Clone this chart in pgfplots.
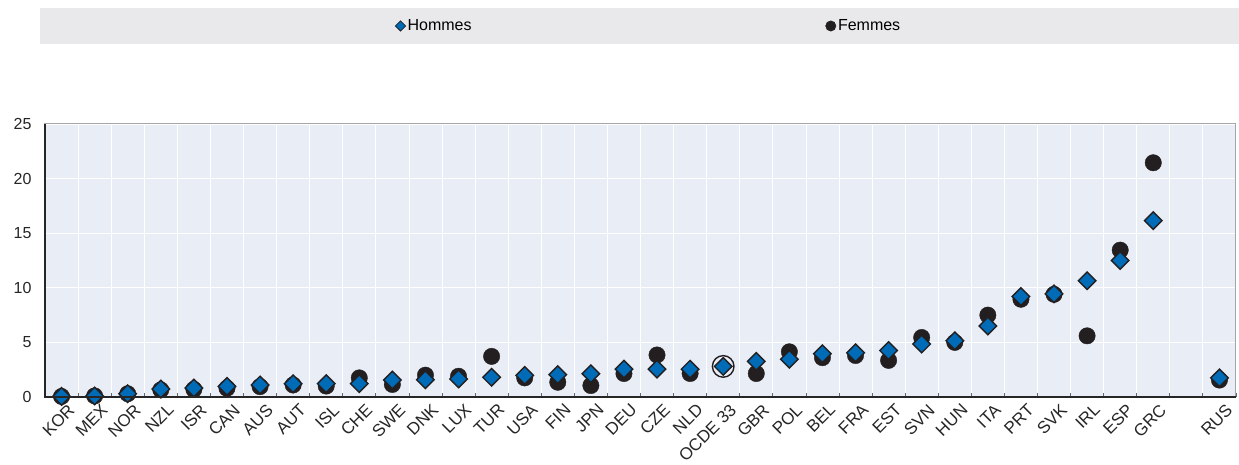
\documentclass[border=0pt]{standalone}
\usepackage{fontspec}
\setmainfont{Liberation Sans}
\usepackage{pgfplots}
\pgfplotsset{compat=1.18}
\definecolor{bgc}{HTML}{E9EDF6}
\definecolor{oblue}{HTML}{006BB6}
\definecolor{oblack}{HTML}{231F20}
\definecolor{leggray}{HTML}{E9E9EB}
\pgfplotsset{
  femleg/.style={legend image code/.code={\draw[##1, mark size=5.2bp] plot coordinates {(0bp,0bp)};}},
  homleg/.style={legend image code/.code={\draw[##1, mark size=3.6bp, mark options={rotate=45, fill=oblue, draw=oblack, line width=0.8bp}] plot coordinates {(0bp,0bp)};}},
}
\begin{document}
\begin{tikzpicture}[x=1bp,y=1bp]
\fill[leggray] (-5,353) rectangle (1194,389);
\path (-45,-59) rectangle (1194,397);
\begin{axis}[
  at={(0,0)}, anchor=south west,
  width=1191bp, height=273bp, scale only axis,
  xmin=-0.5, xmax=35.5, ymin=0, ymax=25,
  clip=false,
  axis background/.style={fill=bgc},
  axis line style={draw=gray!70, line width=1bp},
  xtick={0,1,2,3,4,5,6,7,8,9,10,11,12,13,14,15,16,17,18,19,20,21,22,23,24,25,26,27,28,29,30,31,32,33,35},
  xticklabels={KOR,MEX,NOR,NZL,ISR,CAN,AUS,AUT,ISL,CHE,SWE,DNK,LUX,TUR,USA,FIN,JPN,DEU,CZE,NLD,OCDE 33,GBR,POL,BEL,FRA,EST,SVN,HUN,ITA,PRT,SVK,IRL,ESP,GRC,RUS},
  minor xtick={-0.5,0.5,...,35.5},
  ytick={0,5,10,15,20,25},
  major tick length=0pt,
  minor tick length=4bp,
  tick align=inside,
  xtick pos=left, ytick pos=left,
  xminorgrids, ymajorgrids,
  minor x grid style={white, line width=0.8bp},
  major y grid style={white, line width=0.8bp},
  minor x tick style={black!60, line width=0.8bp},
  /pgf/number format/assume math mode=true,
  yticklabel style={font=\fontsize{16bp}{18bp}\selectfont, text=black!85, xshift=-10bp},
  xticklabel style={font=\fontsize{17bp}{19bp}\selectfont, text=black!85, rotate=45, anchor=north east, inner sep=1bp, yshift=-7bp, xshift=1bp},
  legend columns=2,
  reverse legend,
  legend style={at={(0.507,1.359)}, anchor=center, draw=none, fill=none,
    font=\fontsize{16bp}{19bp}\selectfont, inner sep=0pt,
    /tikz/every even column/.append style={column sep=352bp}},
  legend cell align=left,
  after end axis/.code={
    \draw[black!85, line width=1.2bp] (rel axis cs:0,1) -- (rel axis cs:0,0) -- (rel axis cs:1,0);
  },
]
\addplot[only marks, mark=*, mark size=8.2bp, mark options={fill=oblack, draw=oblack}, femleg]
coordinates {
(0,0.05) (1,0.1) (2,0.3) (3,0.65) (4,0.7) (5,0.8) (6,0.95) (7,1.1) (8,1.0) (9,1.75)
(10,1.15) (11,2.0) (12,1.9) (13,3.72) (14,1.75) (15,1.35) (16,1.05) (17,2.15) (18,3.85) (19,2.15)
(21,2.15) (22,4.14) (23,3.6) (24,3.8) (25,3.35) (26,5.45) (27,5.0) (28,7.5) (29,8.95)
(30,9.4) (31,5.6) (32,13.45) (33,21.45) (35,1.55)
};
\addlegendentry{Femmes}
\addplot[only marks, mark=o, mark size=10.8bp, mark options={draw=oblack, line width=1.4bp}, forget plot]
coordinates {(20,2.8)};
\addplot[only marks, mark=square*, mark size=6.2bp,
  mark options={rotate=45, fill=oblue, draw=oblack, line width=1.4bp}, homleg]
coordinates {
(0,0.05) (1,0.1) (2,0.3) (3,0.73) (4,0.82) (5,0.97) (6,1.1) (7,1.22) (8,1.22) (9,1.22)
(10,1.55) (11,1.58) (12,1.65) (13,1.8) (14,1.98) (15,2.05) (16,2.13) (17,2.55) (18,2.55) (19,2.55)
(20,2.8) (21,3.26) (22,3.45) (23,3.96) (24,4.05) (25,4.25) (26,4.85) (27,5.15) (28,6.5) (29,9.2)
(30,9.45) (31,10.65) (32,12.5) (33,16.15) (35,1.75)
};
\addlegendentry{Hommes}
\end{axis}
\end{tikzpicture}
\end{document}
